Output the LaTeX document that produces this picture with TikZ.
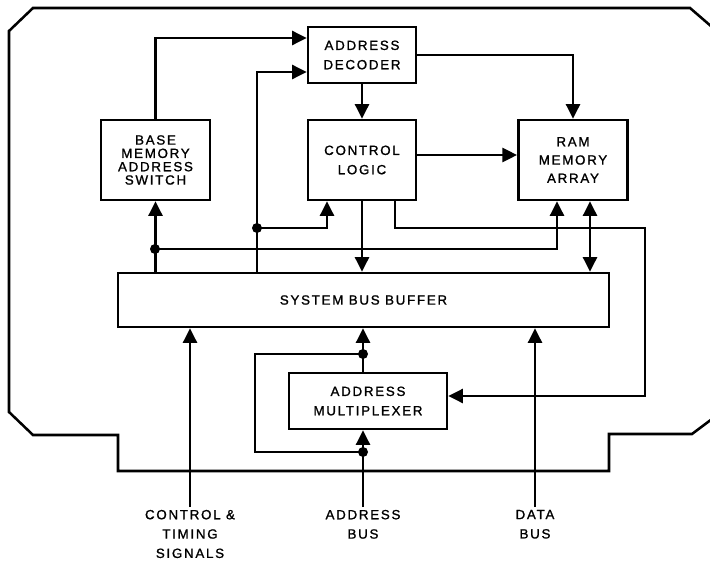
\documentclass[tikz,border=0pt]{standalone}
\usepackage{fontspec}
\setmainfont{Liberation Sans}[LetterSpace=13,FakeBold=1.2]
\usetikzlibrary{arrows.meta}
\tikzset{
  mb box/.style={
    draw=black,line width=1.9pt,fill=white,align=center,inner sep=0pt,
    font=\fontsize{10}{14.5}\selectfont
  },
  mb line/.style={black,line width=1.9pt},
  mb arr/.style={mb line,-{Triangle[length=11pt,width=10.5pt]}},
  mb both/.style={mb line,{Triangle[length=11pt,width=10.5pt]}-{Triangle[length=11pt,width=10.5pt]}},
  mb dot/.style={circle,fill=black,minimum size=7.5pt,inner sep=0pt},
  mb label/.style={align=center,inner sep=2pt,anchor=north,
    font=\fontsize{10}{14.5}\selectfont}
}

\begin{document}
\begin{tikzpicture}[x=0.75pt,y=-0.75pt]
  \useasboundingbox (0,0) rectangle (710,564);
  \draw[mb line,line join=miter] (33,8) -- (690,8) -- (712,27) -- (712,419) -- (692,434)
    -- (609,434) -- (609,471) -- (118,471) -- (118,435) -- (33,435) -- (9,412)
    -- (9,31) -- cycle;
  \node[mb box,minimum width=81pt,minimum height=42pt] (dec) at (362,55) {ADDRESS\\DECODER};
  \node[mb box,minimum width=81.75pt,minimum height=60pt,font=\fontsize{10}{10}\selectfont]
    (sw) at (155.5,160) {BASE\\MEMORY\\ADDRESS\\SWITCH};
  \node[mb box,minimum width=81pt,minimum height=60pt] (ctl) at (362,160) {CONTROL\\LOGIC};
  \node[mb box,minimum width=82pt,minimum height=60pt,font=\fontsize{10}{13.7}\selectfont]
    (ram) at (573,160) {RAM\\MEMORY\\ARRAY};
  \node[mb box,minimum width=368.25pt,minimum height=40.5pt] (sbb) at (363.5,300) {SYSTEM BUS BUFFER};
  \node[mb box,minimum width=118.5pt,minimum height=42pt] (mux) at (368,401) {ADDRESS\\MULTIPLEXER};
  \node[mb label] (cts) at (190,507) {CONTROL \&\\TIMING\\SIGNALS};
  \node[mb label] (abus) at (363,507) {ADDRESS\\BUS};
  \node[mb label] (dbus) at (535,507) {DATA\\BUS};
  \coordinate (j1) at (257,228);
  \coordinate (j2) at (155,249);
  \coordinate (j3) at (363,452);
  \coordinate (j4) at (363,354);
  \coordinate (lp) at (255,354);
  \coordinate (c1) at (645,228);
  \coordinate (r2) at ([xshift=12.75pt]ram.south);
  \draw[mb arr] (sw.north) |- ([yshift=12.75pt]dec.west);
  \draw[mb arr] (sbb.north -| j1) -- (j1) |- ([yshift=-12.75pt]dec.west);
  \draw[mb arr] (j1) -| ([xshift=-26.25pt]ctl.south);
  \draw[mb arr] (sbb.north -| sw.south) -- (sw.south);
  \draw[mb arr] (j2) -| ([xshift=-12pt]ram.south);
  \draw[mb both] (r2) -- (sbb.north -| r2);
  \draw[mb arr] (dec) -- (ctl);
  \draw[mb arr] (dec.east) -| (ram.north);
  \draw[mb arr] ([yshift=3.75pt]ctl.east) -- ([yshift=3.75pt]ram.west);
  \draw[mb arr] (ctl.south) -- (sbb.north -| ctl.south);
  \draw[mb arr] ([xshift=24.75pt]ctl.south) |- (c1) |- ([yshift=3.75pt]mux.east);
  \draw[mb arr] (cts.north) -- (sbb.south -| cts.north);
  \draw[mb arr] (dbus.north) -- (sbb.south -| dbus.north);
  \draw[mb arr] (abus.north) -- (mux.south -| abus.north);
  \draw[mb line] (j3) -| (lp) -- (j4);
  \draw[mb arr] (mux.north -| j4) -- (sbb.south -| j4);
  \node[mb dot] at (j1) {};
  \node[mb dot] at (j2) {};
  \node[mb dot] at (j3) {};
  \node[mb dot] at (j4) {};
\end{tikzpicture}
\end{document}
